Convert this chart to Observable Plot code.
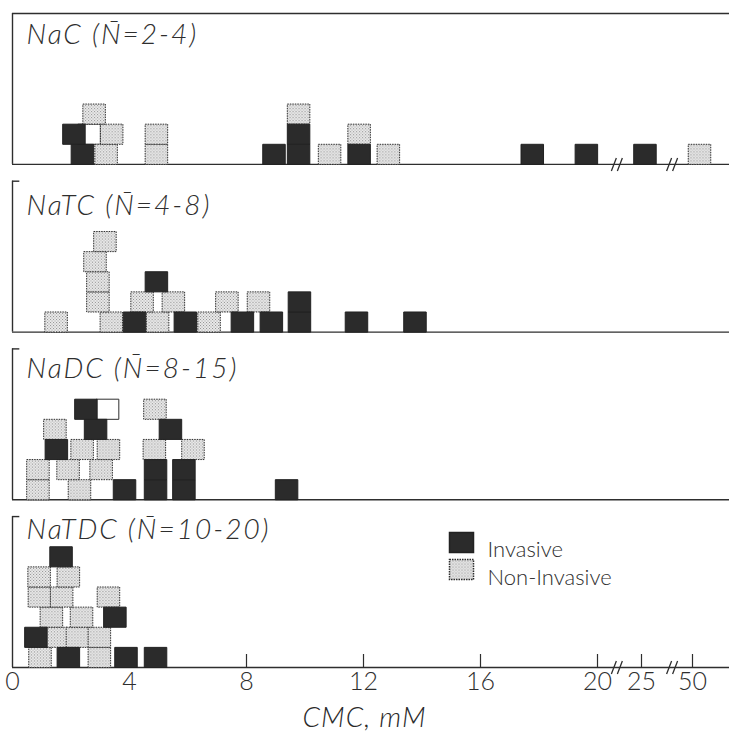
<!DOCTYPE html>
<html>
<head>
<meta charset="utf-8">
<script src="https://cdn.jsdelivr.net/npm/d3@7"></script>
<script src="https://cdn.jsdelivr.net/npm/@observablehq/plot@0.6"></script>
<style>
  body { margin: 0; background: #fff; }
  #wrap { position: relative; width: 729px; height: 742px; background: #fff; }
  #xlabel { position: absolute; left: 0; top: 699px; width: 729px; text-align: center;
            font: italic 300 28px Lato, sans-serif; letter-spacing: 1px; color: #2a2a2a; }
</style>
</head>
<body>
<div id="wrap"><div id="chart"></div><div id="xlabel">CMC, mM</div></div>
<script>
// ---------- data ----------
const panelNames  = ["NaC", "NaTC", "NaDC", "NaTDC"];
const panelTitles = ["NaC (N\u0304=2-4)", "NaTC (N\u0304=4-8)", "NaDC (N\u0304=8-15)", "NaTDC (N\u0304=10-20)"];
const legendLabels = ["Invasive", "Non-Invasive"];
const xTicks = [0, 4, 8, 12, 16, 20, 25, 50];
const axisBreaks = [22.2, 40];          // CMC positions of the "//" breaks
const brokenPanels = ["NaC", "NaTDC"];

// [CMC (mM), stack level]
const nacInvasive     = [[2.39,0],[2.10,1],[8.94,0],[9.78,0],[9.78,1],[11.85,0],[17.77,0],[19.62,0],[26.7,0]];
const nacNonInvasive  = [[3.20,0],[3.39,1],[2.79,2],[4.92,0],[4.92,1],[9.78,2],[10.84,0],[11.85,1],[12.85,0],[53.4,0]];
const nacBlank        = [[2.62,1]];

const natcInvasive    = [[4.17,0],[5.91,0],[7.86,0],[8.85,0],[9.81,0],[9.81,1],[11.76,0],[13.76,0],[4.92,2]];
const natcNonInvasive = [[1.49,0],[3.38,0],[4.96,0],[6.72,0],[2.92,1],[2.92,2],[2.82,3],[3.16,4],[4.43,1],[5.50,1],[7.33,1],[8.41,1]];

const nadcInvasive    = [[3.83,0],[4.89,0],[4.89,1],[5.86,0],[5.86,1],[1.50,2],[2.84,3],[5.40,3],[2.51,4],[9.37,0]];
const nadcNonInvasive = [[0.87,0],[2.29,0],[0.87,1],[1.90,1],[3.03,1],[2.38,2],[3.28,2],[4.85,2],[6.17,2],[1.45,3],[4.87,4]];
const nadcBlank       = [[3.25,4]];

const natdcInvasive   = [[1.91,0],[3.88,0],[4.89,0],[0.80,1],[3.50,2],[1.66,5]];
const natdcNonInvasive= [[0.94,0],[2.97,0],[1.52,1],[2.22,1],[2.97,1],[1.33,2],[2.36,2],[0.92,3],[1.68,3],[3.28,3],[0.91,4],[1.91,4]];

// ---------- build tables ----------
function rows(panel, arr, type) { return arr.map(([cmc, level]) => ({panel, cmc, level, type})); }
const blank = [...rows("NaC", nacBlank, "b"), ...rows("NaDC", nadcBlank, "b")];
const nonInv = [...rows("NaC", nacNonInvasive, "n"), ...rows("NaTC", natcNonInvasive, "n"),
                ...rows("NaDC", nadcNonInvasive, "n"), ...rows("NaTDC", natdcNonInvasive, "n")];
const inv = [...rows("NaC", nacInvasive, "i"), ...rows("NaTC", natcInvasive, "i"),
             ...rows("NaDC", nadcInvasive, "i"), ...rows("NaTDC", natdcInvasive, "i")];
const breakMarks = brokenPanels.flatMap(p => axisBreaks.map(x => ({panel: p, x})));

// ---------- layout / style ----------
const W = 729, H = 700, MT = 13, MB = 33, PAD = 0.1;
const step = (H - MT - MB) / (panelNames.length - PAD);
const BW = step * (1 - PAD);
const YMAX = 7.5;
const ROW = BW / YMAX;
const SQW = 22.5;
const INK = "#2e2e2e";
const titleOffsets = [11, 14, 9, 3];   // px below each panel's top edge

const boxSymbol = {draw(ctx) {
  const w = SQW / 2, h = ROW / 2;
  ctx.moveTo(-w, -h); ctx.lineTo(w, -h); ctx.lineTo(w, h); ctx.lineTo(-w, h); ctx.closePath();
}};
const legendBox = {draw(ctx) {
  const w = 12, h = 10;
  ctx.moveTo(-w, -h); ctx.lineTo(w, -h); ctx.lineTo(w, h); ctx.lineTo(-w, h); ctx.closePath();
}};
const slashSymbol = {draw(ctx) {
  for (const o of [-3, 3]) { ctx.moveTo(o - 2.5, 6.5); ctx.lineTo(o + 2.5, -6.5); }
}};

const last = () => "NaTDC";

const titleMarks = panelNames.map((p, i) =>
  Plot.text([panelTitles[i]], {fy: () => p, text: d => d, frameAnchor: "top-left", textAnchor: "start",
    lineAnchor: "top", dx: 14, dy: titleOffsets[i], fontSize: 28, fontWeight: 300, fontStyle: "italic", fill: INK}));

const chart = Plot.plot({
  width: W, height: H,
  marginLeft: 12, marginRight: 0, marginTop: MT, marginBottom: MB,
  style: {fontFamily: "Lato, sans-serif", fontWeight: 300, fontSize: "24px", color: INK, background: "#fff", overflow: "visible"},
  x: {type: "linear", domain: [0, 20, 25, 50, 68], range: [12, 597, 641, 692, 729], axis: null},
  y: {domain: [0, YMAX], axis: null},
  fy: {domain: panelNames, paddingInner: PAD, paddingOuter: 0, round: false, axis: null, label: null},
  marks: [
    // frames
    Plot.ruleY(panelNames, {fy: d => d, y: 0, stroke: INK, strokeWidth: 1.4}),
    Plot.ruleX(panelNames, {fy: d => d, x: 0, y1: 0, y2: YMAX, stroke: INK, strokeWidth: 1.4}),
    Plot.ruleY(["NaC"], {fy: d => d, y: YMAX, stroke: INK, strokeWidth: 1.4}),
    Plot.ruleY(panelNames.slice(1), {fy: d => d, y: YMAX, x1: 0, x2: 0.25, stroke: INK, strokeWidth: 1.4}),
    // axis ticks + break marks
    Plot.ruleX(xTicks.slice(1), {fy: last, x: d => d, y1: 0, y2: 13 / ROW, stroke: INK, strokeWidth: 1.2}),
    Plot.dot(breakMarks, {fy: "panel", x: "x", y: 0, symbol: slashSymbol, r: 5, fill: "none", stroke: INK, strokeWidth: 1.3}),
    Plot.text(xTicks, {fy: last, x: d => d, y: 0, text: d => String(d), lineAnchor: "top", dy: 5, fontSize: 25, fontWeight: 300, fill: INK}),
    // squares
    Plot.dot(blank, {fy: "panel", x: "cmc", y: d => d.level + 0.5, symbol: boxSymbol, r: 5, fill: "#fff", stroke: INK, strokeWidth: 1}),
    Plot.dot(nonInv, {fy: "panel", x: "cmc", y: d => d.level + 0.5, symbol: boxSymbol, r: 5, fill: "url(#stip)", stroke: INK, strokeWidth: 1, strokeDasharray: "1.5,1"}),
    Plot.dot(inv, {fy: "panel", x: "cmc", y: d => d.level + 0.5, symbol: boxSymbol, r: 5, fill: "#2b2b2b", stroke: "#222", strokeWidth: 1}),
    // titles
    ...titleMarks,
    // legend
    Plot.dot([legendLabels[0]], {fy: last, frameAnchor: "top-left", dx: 449, dy: 26, symbol: legendBox, r: 5, fill: "#2b2b2b", stroke: "#222"}),
    Plot.dot([legendLabels[1]], {fy: last, frameAnchor: "top-left", dx: 449, dy: 53, symbol: legendBox, r: 5, fill: "url(#stip)", stroke: INK, strokeDasharray: "1.5,1"}),
    Plot.text([legendLabels[0]], {fy: last, frameAnchor: "top-left", dx: 475, dy: 25, text: d => d, textAnchor: "start", fontSize: 22, fontWeight: 300, fill: INK}),
    Plot.text([legendLabels[1]], {fy: last, frameAnchor: "top-left", dx: 475, dy: 53, text: d => d, textAnchor: "start", fontSize: 22, fontWeight: 300, fill: INK})
  ]
});

chart.insertAdjacentHTML("afterbegin",
  '<defs><pattern id="stip" width="3" height="3" patternUnits="userSpaceOnUse">' +
  '<rect width="3" height="3" fill="#ececec"/>' +
  '<rect x="0" y="0" width="1" height="1" fill="#8c8c8c"/>' +
  '<rect x="1.5" y="1.5" width="1" height="1" fill="#8c8c8c"/></pattern></defs>');

// wider letter spacing on the italic panel titles
chart.querySelectorAll('g[font-style="italic"]').forEach(g => g.setAttribute("letter-spacing", "2"));

document.getElementById("chart").appendChild(chart);
</script>
</body>
</html>
